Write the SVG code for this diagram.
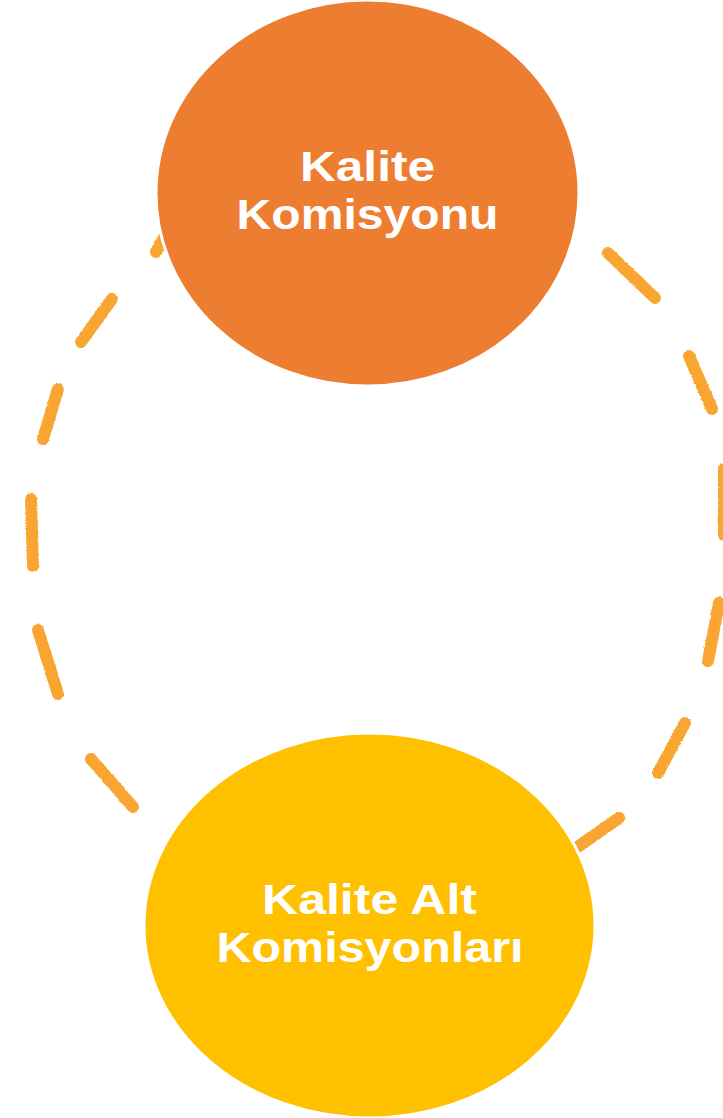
<svg xmlns="http://www.w3.org/2000/svg" width="723" height="1118" viewBox="0 0 723 1118">
  <style>
    .dash { stroke: #F9A533; stroke-width: 12; stroke-linecap: round; fill: none; }
    .lbl { font-family: "Liberation Sans", "Open Sans", sans-serif; font-weight: 700; font-size: 42px; fill: #FFFFFF; text-anchor: middle; }
    .node-shape { stroke: #FFFFFF; stroke-width: 3; }
  </style>
  <defs>
    <filter id="rough" x="-20%" y="-20%" width="140%" height="140%">
      <feTurbulence type="fractalNoise" baseFrequency="0.6" numOctaves="2" seed="3" result="n"/>
      <feDisplacementMap in="SourceGraphic" in2="n" scale="2.5" xChannelSelector="R" yChannelSelector="G"/>
    </filter>
  </defs>
  <rect width="723" height="1118" fill="#FFFFFF"/>
  <g id="connectors" filter="url(#rough)">
    <line class="dash" x1="178" y1="212" x2="156" y2="252"/>
    <line class="dash" x1="112" y1="299" x2="81" y2="342"/>
    <line class="dash" x1="58" y1="389" x2="43" y2="439"/>
    <line class="dash" x1="31" y1="499" x2="33" y2="566"/>
    <line class="dash" x1="38" y1="630" x2="58" y2="694"/>
    <line class="dash" x1="91" y1="759" x2="133" y2="807"/>
    <line class="dash" x1="619" y1="818" x2="566" y2="855"/>
    <line class="dash" x1="685" y1="723" x2="658" y2="773"/>
    <line class="dash" x1="719" y1="603" x2="708" y2="661"/>
    <line class="dash" x1="724" y1="469" x2="724" y2="535"/>
    <line class="dash" x1="689" y1="356" x2="712" y2="409"/>
    <line class="dash" x1="608" y1="253" x2="655" y2="298"/>
  </g>
  <g id="node-kalite-komisyonu">
    <ellipse class="node-shape" cx="367.5" cy="193" rx="211.5" ry="193" fill="#ED7D31"/>
    <text class="lbl" x="367.5" y="181" textLength="135" lengthAdjust="spacingAndGlyphs">Kalite</text>
    <text class="lbl" x="367.5" y="229" textLength="262" lengthAdjust="spacingAndGlyphs">Komisyonu</text>
  </g>
  <g id="node-kalite-alt-komisyonlari">
    <ellipse class="node-shape" cx="369.5" cy="925.5" rx="225.5" ry="192.5" fill="#FFC000"/>
    <text class="lbl" x="369.5" y="914" textLength="215" lengthAdjust="spacingAndGlyphs">Kalite Alt</text>
    <text class="lbl" x="370" y="962" textLength="307" lengthAdjust="spacingAndGlyphs">Komisyonları</text>
  </g>
</svg>
